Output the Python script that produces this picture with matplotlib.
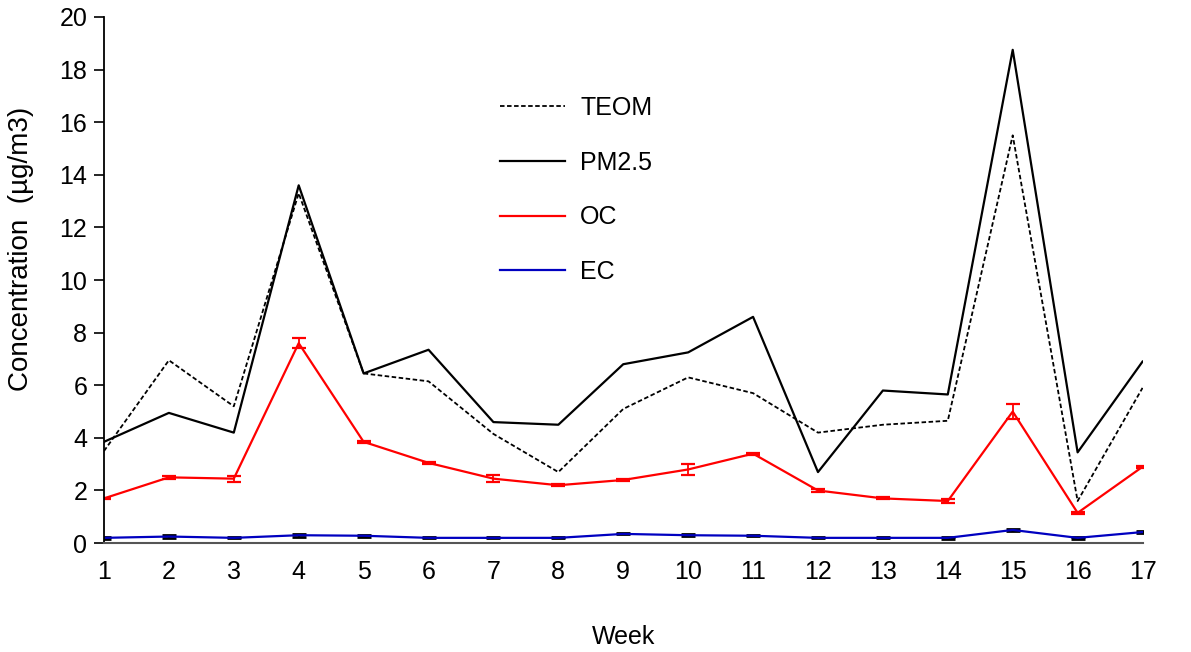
import numpy as np
import matplotlib
matplotlib.use("Agg")
import matplotlib.pyplot as plt
from matplotlib.lines import Line2D

plt.rcParams["font.family"] = ["Liberation Sans", "DejaVu Sans"]

weeks = np.arange(1, 18)
teom = [3.5, 6.95, 5.2, 13.3, 6.45, 6.15, 4.15, 2.7, 5.1, 6.3, 5.7, 4.2, 4.5, 4.65, 15.5, 1.6, 5.9]
pm25 = [3.85, 4.95, 4.2, 13.6, 6.45, 7.35, 4.6, 4.5, 6.8, 7.25, 8.6, 2.7, 5.8, 5.65, 18.75, 3.45, 6.9]
oc = [1.7, 2.5, 2.45, 7.6, 3.85, 3.05, 2.45, 2.2, 2.4, 2.8, 3.4, 2.0, 1.7, 1.6, 5.0, 1.15, 2.9]
oc_err = [0.03, 0.05, 0.12, 0.2, 0.03, 0.03, 0.13, 0.04, 0.04, 0.2, 0.04, 0.04, 0.04, 0.07, 0.3, 0.05, 0.04]
ec = [0.2, 0.25, 0.2, 0.3, 0.28, 0.2, 0.2, 0.2, 0.35, 0.3, 0.28, 0.2, 0.2, 0.2, 0.5, 0.2, 0.42]
ec_err = [0.03, 0.04, 0.02, 0.05, 0.03, 0.02, 0.02, 0.02, 0.02, 0.04, 0.02, 0.02, 0.02, 0.03, 0.05, 0.04, 0.03]

fig = plt.figure(figsize=(11.91, 6.52), dpi=100)
ax = fig.add_axes([0.0873, 0.167, 0.872, 0.807])

dash = (0, (2.5, 1.4))
ax.plot(weeks, teom, color="black", ls=dash, lw=1.3)
ax.plot(weeks, pm25, color="black", lw=1.6)
ax.errorbar(weeks, oc, yerr=oc_err, color="red", lw=1.6, capsize=5, capthick=1.6,
            elinewidth=1.3)
ax.errorbar(weeks, ec, yerr=ec_err, color="#0000c0", ecolor="black", lw=1.6,
            capsize=5, capthick=2, elinewidth=1.3)

ax.set_xlim(1, 17)
ax.set_ylim(0, 20)
ax.set_xticks(weeks)
ax.set_yticks(np.arange(0, 21, 2))
ax.tick_params(axis="x", length=0, pad=12, labelsize=18)
ax.tick_params(axis="y", length=7, width=1.2, direction="out", pad=5, labelsize=18)

for s in ["top", "right"]:
    ax.spines[s].set_visible(False)
ax.spines["left"].set_linewidth(1.3)
ax.spines["bottom"].set_color("#555555")
ax.spines["bottom"].set_linewidth(1.5)

ax.set_ylabel("Concentration  (\u00b5g/m3)", fontsize=20)
ax.yaxis.set_label_coords(-0.067, 0.56)
ax.set_xlabel("Week", fontsize=18, labelpad=30)

handles = [
    Line2D([], [], color="black", ls=dash, lw=1.3),
    Line2D([], [], color="black", lw=1.6),
    Line2D([], [], color="red", lw=1.6),
    Line2D([], [], color="#0000c0", lw=1.6),
]
labels = ["TEOM", "PM2.5", "OC", "EC"]
ax.legend(handles, labels, loc="upper left", bbox_to_anchor=(0.36, 0.893),
          frameon=False, fontsize=18, labelspacing=1.23, handlelength=2.6,
          handletextpad=0.6)

fig.savefig("out.png", dpi=100)
